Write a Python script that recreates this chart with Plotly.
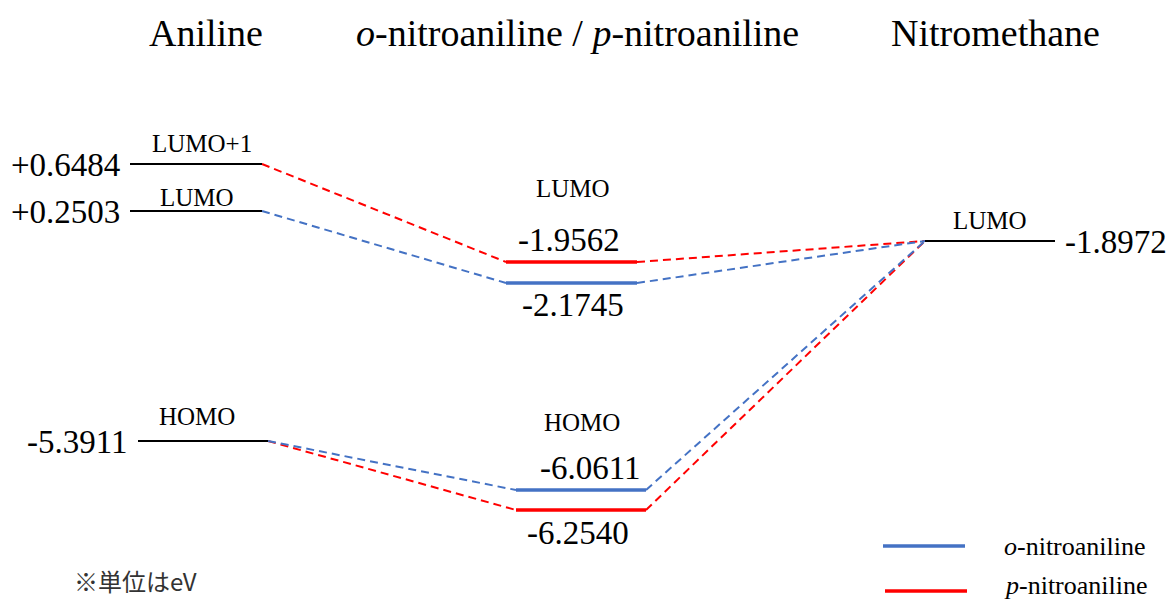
import plotly.graph_objects as go

# ---------------- data ----------------
molecules = ["Aniline", "<i>o</i>-nitroaniline / <i>p</i>-nitroaniline", "Nitromethane"]
aniline_orbitals = ["LUMO+1", "LUMO", "HOMO"]
aniline_energies = [0.6484, 0.2503, -5.3911]
nitro_orbitals = ["LUMO", "HOMO"]
ortho_energies = [-2.1745, -6.0611]
para_energies = [-1.9562, -6.2540]
nitromethane_orbitals = ["LUMO"]
nitromethane_energies = [-1.8972]
series_names = ["<i>o</i>-nitroaniline", "<i>p</i>-nitroaniline"]
unit_note = "※単位はeV"

# ---------------- layout (schematic diagram positions) ----------------
W, H = 1171, 603
BLUE = "#4472C4"
RED = "#FF0000"
SERIF = "Liberation Serif"

# schematic vertical position of each level in the drawing
level_y = {
    ("ani", "LUMO+1"): 164, ("ani", "LUMO"): 211, ("ani", "HOMO"): 441,
    ("o", "LUMO"): 283, ("o", "HOMO"): 490,
    ("p", "LUMO"): 262, ("p", "HOMO"): 510,
    ("nm", "LUMO"): 241,
}
col_x = {
    "ani": (130, 262), "ani_h": (138, 268),
    "mid_l": (506, 637), "mid_h": (516, 646),
    "nm": (925, 1055),
}

fig = go.Figure()

def seg(x0, x1, y0, y1, color, width, dash="solid"):
    fig.add_trace(go.Scatter(x=[x0, x1], y=[y0, y1], mode="lines",
                             line=dict(color=color, width=width, dash=dash),
                             showlegend=False, hoverinfo="skip"))

def fmt(e, signed=False):
    return f"{e:+.4f}" if signed else f"{e:.4f}"

ann = []
def txt(x, y, s, size, xanchor="center", family=SERIF, color="#000"):
    ann.append(dict(x=x, y=y, xref="x", yref="y", text=s, showarrow=False,
                    xanchor=xanchor, yanchor="middle",
                    font=dict(family=family, size=size, color=color)))

DASH = "8px,5px"
E_SIZE = 33
O_SIZE = 25

# ---- dashed connectors ----
ya = {o: level_y[("ani", o)] for o in aniline_orbitals}
yo = {o: level_y[("o", o)] for o in nitro_orbitals}
yp = {o: level_y[("p", o)] for o in nitro_orbitals}
ynm = level_y[("nm", "LUMO")]

seg(col_x["ani"][1], col_x["mid_l"][0], ya["LUMO+1"], yp["LUMO"], RED, 2, DASH)
seg(col_x["ani"][1], col_x["mid_l"][0], ya["LUMO"], yo["LUMO"], BLUE, 2, DASH)
seg(col_x["mid_l"][1], col_x["nm"][0], yp["LUMO"], ynm, RED, 2, DASH)
seg(col_x["mid_l"][1], col_x["nm"][0], yo["LUMO"], ynm, BLUE, 2, DASH)
seg(col_x["ani_h"][1], col_x["mid_h"][0], ya["HOMO"], yp["HOMO"], RED, 2, DASH)
seg(col_x["ani_h"][1], col_x["mid_h"][0], ya["HOMO"], yo["HOMO"], BLUE, 2, DASH)
seg(col_x["mid_h"][1], col_x["nm"][0], yp["HOMO"], ynm, RED, 2, DASH)
seg(col_x["mid_h"][1], col_x["nm"][0], yo["HOMO"], ynm, BLUE, 2, DASH)

# ---- Aniline levels ----
for orb, e in zip(aniline_orbitals, aniline_energies):
    xs = col_x["ani_h"] if orb == "HOMO" else col_x["ani"]
    y = level_y[("ani", orb)]
    seg(xs[0], xs[1], y, y, "#000", 2)
    txt(xs[0] - 8, y + 1, fmt(e, signed=e > 0), E_SIZE, xanchor="right")
    dx = {"LUMO+1": 6, "LUMO": 1, "HOMO": -6}[orb]
    dy = {"LUMO+1": 21, "LUMO": 14, "HOMO": 25}[orb]
    txt((xs[0] + xs[1]) / 2 + dx, y - dy, orb, O_SIZE)

# ---- o / p nitroaniline levels ----
for orb, eo, ep in zip(nitro_orbitals, ortho_energies, para_energies):
    xs = col_x["mid_l"] if orb == "LUMO" else col_x["mid_h"]
    seg(xs[0], xs[1], yp[orb], yp[orb], RED, 3.5)
    seg(xs[0], xs[1], yo[orb], yo[orb], BLUE, 3.5)
    cx = (xs[0] + xs[1]) / 2
    if orb == "LUMO":
        txt(cx + 1, 188, orb, O_SIZE)
        txt(cx - 3, yp[orb] - 22, fmt(ep), E_SIZE)
        txt(cx + 1, yo[orb] + 22, fmt(eo), E_SIZE)
    else:
        txt(cx + 1, 422, orb, O_SIZE)
        txt(cx + 9, yo[orb] - 22, fmt(eo), E_SIZE)
        txt(cx - 3, yp[orb] + 23, fmt(ep), E_SIZE)

# ---- Nitromethane level ----
for orb, e in zip(nitromethane_orbitals, nitromethane_energies):
    xs = col_x["nm"]
    y = level_y[("nm", orb)]
    seg(xs[0], xs[1], y, y, "#000", 2)
    txt(xs[1] + 8, y + 1, fmt(e), E_SIZE, xanchor="left")
    txt((xs[0] + xs[1]) / 2, y - 21, orb, O_SIZE)

# ---- headers ----
for name, cx in zip(molecules, [206, 577, 995]):
    txt(cx, 33, name, 38)

# ---- legend ----
for name, color, y, ty, x0 in zip(series_names, [BLUE, RED], [546, 591], [546, 585], [883, 885]):
    seg(x0, x0 + 82, y, y, color, 3.5)
    txt(1002, ty, name, 26, xanchor="left")

# ---- unit note ----
txt(72, 580, unit_note, 24, xanchor="left",
    family="Noto Sans CJK JP", color="#333")

fig.update_layout(
    width=W, height=H,
    margin=dict(l=0, r=0, t=0, b=0),
    paper_bgcolor="white", plot_bgcolor="white",
    xaxis=dict(range=[0, W], visible=False, fixedrange=True),
    yaxis=dict(range=[H, 0], visible=False, fixedrange=True),
    annotations=ann,
    showlegend=False,
)

fig.write_html("out.html", config={"displayModeBar": False},
               post_script="document.body.style.margin='0';document.body.style.overflow='hidden';")
